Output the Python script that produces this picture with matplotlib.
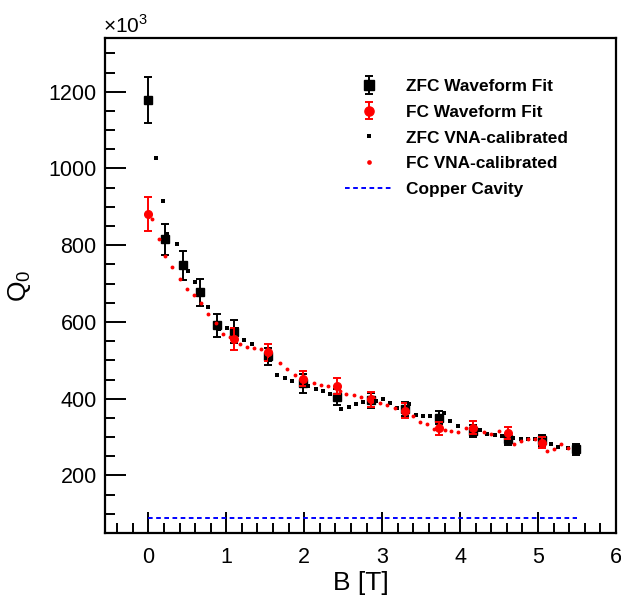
import numpy as np
import matplotlib
matplotlib.use("Agg")
import matplotlib.pyplot as plt

plt.rcParams["font.family"] = ["Liberation Sans", "DejaVu Sans"]
plt.rcParams["mathtext.fontset"] = "custom"
plt.rcParams["mathtext.rm"] = "Liberation Sans"

# Q0 in units of 1e3, B in tesla
zfc_fit_b = [0.00, 0.22, 0.44, 0.66, 0.88, 1.10, 1.54, 1.98, 2.42, 2.86, 3.29, 3.73, 4.17, 4.61, 5.05, 5.49]
zfc_fit_q = [1178, 815, 748, 677, 591, 574, 510, 440, 404, 396, 373, 350, 315, 294, 292, 268]
zfc_fit_err = [60, 41, 38, 35, 30, 30, 22, 24, 20, 19, 18, 17, 16, 15, 14, 14]

fc_fit_b = [0.00, 1.10, 1.54, 1.98, 2.42, 2.86, 3.29, 3.73, 4.17, 4.61, 5.05]
fc_fit_q = [882, 556, 521, 452, 433, 398, 369, 323, 324, 311, 285]
fc_fit_err = [44, 28, 22, 20, 22, 20, 19, 17, 17, 15, 14]

zfc_vna_b = [0.10, 0.19, 0.24, 0.37, 0.51, 0.60, 0.77, 0.91, 1.01, 1.14, 1.23, 1.33,
             1.56, 1.65, 1.75, 1.84, 2.05, 2.15, 2.24, 2.33, 2.47, 2.57, 2.66, 2.76,
             2.92, 3.01, 3.10, 3.19, 3.34, 3.43, 3.53, 3.62, 3.79, 3.87, 3.97, 4.26,
             4.35, 4.45, 4.54, 4.68, 4.78, 4.87, 4.96, 5.17, 5.26, 5.38]
zfc_vna_q = [1027, 914, 828, 802, 732, 703, 639, 581, 585, 581, 553, 542,
             500, 463, 455, 446, 432, 426, 419, 413, 373, 378, 386, 392,
             395, 400, 389, 377, 387, 357, 354, 356, 362, 342, 330, 319,
             307, 306, 302, 298, 294, 295, 294, 281, 274, 271]

fc_vna_b = [0.05, 0.14, 0.22, 0.31, 0.40, 0.49, 0.58, 0.67, 0.76, 0.87, 0.96, 1.05,
            1.17, 1.27, 1.36, 1.45, 1.69, 1.78, 1.88, 2.13, 2.22, 2.31, 2.46, 2.54,
            2.64, 2.73, 2.97, 3.06, 3.16, 3.39, 3.48, 3.57, 3.66, 3.80, 3.88, 3.97,
            4.07, 4.31, 4.40, 4.50, 4.69, 4.78, 4.87, 4.96, 5.11, 5.20, 5.29, 5.38]
fc_vna_q = [868, 815, 772, 744, 712, 685, 671, 649, 620, 597, 569, 561,
            543, 534, 531, 530, 492, 478, 463, 440, 436, 432, 421, 413,
            410, 404, 390, 383, 376, 354, 338, 335, 320, 319, 317, 313,
            324, 313, 309, 317, 283, 289, 295, 294, 263, 269, 283, 271]

copper_b = [0.0, 5.5]
copper_q = [89, 89]

W, H = 621, 597
fig = plt.figure(figsize=(W / 100, H / 100), dpi=100)
ax = fig.add_axes([105 / W, 64 / H, 511 / W, 495 / H])

h1 = ax.errorbar(zfc_fit_b, zfc_fit_q, yerr=zfc_fit_err, fmt="s", color="black",
                 ms=6, elinewidth=1.4, capsize=2.6, capthick=1.4, zorder=3)
h2 = ax.errorbar(fc_fit_b, fc_fit_q, yerr=fc_fit_err, fmt="o", color="red",
                 ms=5.5, elinewidth=1.4, capsize=2.6, capthick=1.4, zorder=4)
h3, = ax.plot(zfc_vna_b, zfc_vna_q, "s", color="black", ms=2.6, mew=0, zorder=5)
h4, = ax.plot(fc_vna_b, fc_vna_q, "o", color="red", ms=2.8, mew=0, zorder=5)
h5, = ax.plot(copper_b, copper_q, color="blue", lw=1.4, ls=(0, (2.4, 1.8)), zorder=2)

ax.set_xlim(-0.556, 6.0)
ax.set_ylim(50, 1340)
ax.set_xticks(np.arange(0, 7, 1))
ax.set_xticks(np.arange(-0.4, 6.01, 0.2), minor=True)
ax.set_yticks(np.arange(200, 1201, 200))
ax.set_yticks(np.arange(50, 1340, 50), minor=True)

ax.tick_params(which="both", direction="in", top=False, right=False, width=1.4, labelsize=15.5)
ax.tick_params(which="major", length=15)
ax.tick_params(which="minor", length=7)
ax.tick_params(axis="x", pad=10)
ax.tick_params(axis="y", pad=6)
for s in ax.spines.values():
    s.set_linewidth(1.6)

ax.set_xlabel("B [T]", fontsize=19, labelpad=2)
ax.set_ylabel("Q$_0$", fontsize=19, labelpad=11)
fig.text(103 / W, 1 - 33 / H, "\u00d710$^3$", fontsize=15, ha="left", va="baseline")

leg = ax.legend([h1, h2, h3, h4, h5],
                ["ZFC Waveform Fit", "FC Waveform Fit", "ZFC VNA-calibrated",
                 "FC VNA-calibrated", "Copper Cavity"],
                loc="upper left", bbox_to_anchor=(345 / W, 1 - 79 / H),
                bbox_transform=fig.transFigure, frameon=False,
                prop={"weight": "bold", "size": 12.4}, handlelength=2.8,
                handletextpad=0.72, labelspacing=0.62, borderpad=0, borderaxespad=0,
                markerscale=1.2)

fig.savefig("out.png", dpi=100)
